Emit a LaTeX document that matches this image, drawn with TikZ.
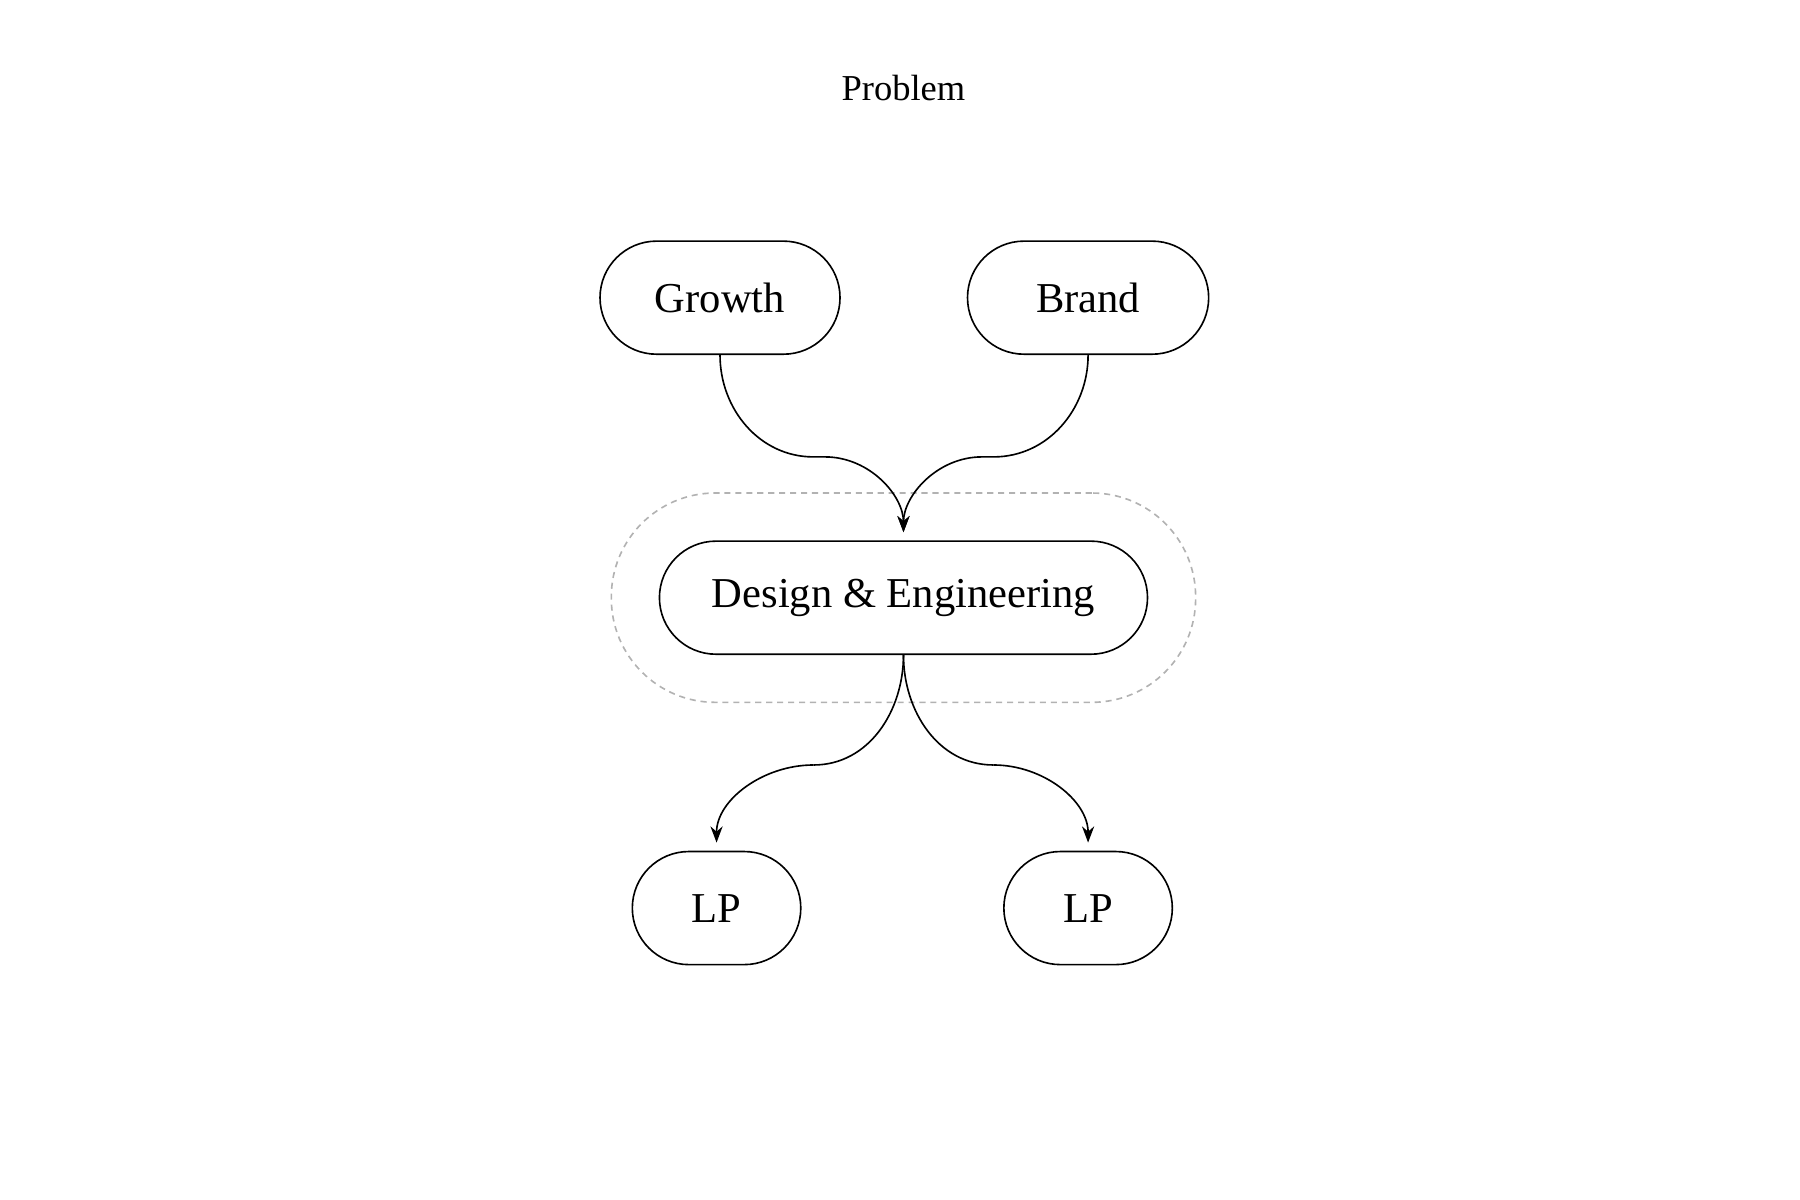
\documentclass[tikz,border=0pt]{standalone}
\usepackage{fontspec}
\setmainfont{Liberation Serif}
\usetikzlibrary{positioning,arrows.meta,fit,calc}

\begin{document}
\begin{tikzpicture}[scale=1.0,
    pill/.style={draw, thin, rounded corners=0.49cm, minimum height=0.98cm, inner xsep=2pt, font=\fontsize{10.5}{12}\selectfont},
    link/.style={draw, thin, -{Stealth[length=4pt,width=3pt]}, shorten >=2pt}]
    % Canvas
    \useasboundingbox (0,0) rectangle (15.6,10.4);

    % Title
    \node[font=\fontsize{9}{11}\selectfont] (title) at (7.83,9.64) {Problem};

    % Sources
    \node[pill, minimum width=2.08cm] (growth) at (6.24,7.82) {Growth};
    \node[pill, minimum width=2.09cm] (brand) at (9.43,7.82) {Brand};

    % Team
    \node[pill, minimum width=4.23cm] (team) at (7.83,5.22) {Design \& Engineering};
    \node[fit=(team), draw, gray!60, dash pattern=on 1.5pt off 1.2pt, inner xsep=0.41cm, inner ysep=0.41cm,
          rounded corners=0.9cm] (halo) {};

    % Outputs
    \node[pill, minimum width=1.46cm] (lpa) at (6.21,2.53) {LP};
    \node[pill, minimum width=1.46cm] (lpb) at (9.43,2.53) {LP};

    % Connectors
    \coordinate (inL) at (7.05,6.44);
    \coordinate (inR) at (8.61,6.44);
    \coordinate (outL) at (7.05,3.77);
    \coordinate (outR) at (8.61,3.77);
    \draw[thin] (growth.south) to[out=-90,in=180] (inL) -- ++(0.1,0);
    \draw[link] ($(inL)+(0.1,0)$) to[out=0,in=90] (team.north);
    \draw[thin] (brand.south) to[out=-90,in=0] (inR) -- ++(-0.1,0);
    \draw[link] ($(inR)+(-0.1,0)$) to[out=180,in=90] (team.north);
    \draw[thin] (team.south) to[out=-90,in=0] (outL);
    \draw[link] (outL) to[out=180,in=90] (lpa.north);
    \draw[thin] (team.south) to[out=-90,in=180] (outR);
    \draw[link] (outR) to[out=0,in=90] (lpb.north);
\end{tikzpicture}
\end{document}
